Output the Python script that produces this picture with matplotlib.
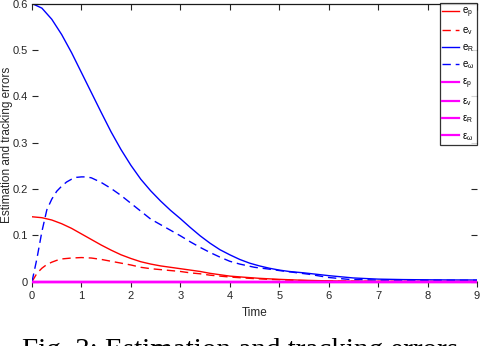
import numpy as np
import matplotlib
matplotlib.use('Agg')
import matplotlib.pyplot as plt

plt.rcParams['font.family'] = ['Liberation Sans', 'DejaVu Sans']
plt.rcParams['mathtext.fontset'] = 'dejavusans'

# values
t_eR = [0.0, 0.2, 0.4, 0.6, 0.8, 1.0, 1.2, 1.4, 1.6, 1.8, 2.0, 2.2, 2.4, 2.6, 2.8, 3.0,
        3.2, 3.4, 3.6, 3.8, 4.0, 4.2, 4.4, 4.6, 4.8, 5.0, 5.2, 5.5, 6.0, 6.5, 7.0,
        7.5, 8.0, 8.5, 9.0]
eR = [0.600, 0.590, 0.566, 0.533, 0.494, 0.451, 0.408, 0.365, 0.323, 0.285, 0.251, 0.221,
      0.196, 0.174, 0.154, 0.136, 0.117, 0.099, 0.083, 0.069, 0.058, 0.048, 0.040, 0.034,
      0.029, 0.025, 0.022, 0.019, 0.013, 0.008, 0.0055, 0.0045, 0.004, 0.0037, 0.0036]

t_ew = [0.0, 0.1, 0.2, 0.3, 0.4, 0.5, 0.6, 0.7, 0.8, 0.9, 1.0, 1.1, 1.2, 1.4, 1.6, 1.8,
        2.0, 2.2, 2.4, 2.6, 2.8, 3.0, 3.2, 3.4, 3.6, 3.8, 4.0, 4.2, 4.5, 4.8, 5.0, 5.3,
        5.6, 6.0, 6.4, 7.0, 8.0, 9.0]
ew = [0.0, 0.050, 0.108, 0.155, 0.178, 0.195, 0.206, 0.215, 0.221, 0.225, 0.226, 0.226,
      0.224, 0.214, 0.201, 0.186, 0.169, 0.152, 0.135, 0.123, 0.111, 0.099, 0.086, 0.074,
      0.063, 0.053, 0.044, 0.038, 0.031, 0.027, 0.024, 0.020, 0.016, 0.009, 0.005, 0.0035,
      0.003, 0.003]

t_ep = [0.0, 0.2, 0.4, 0.6, 0.8, 1.0, 1.2, 1.4, 1.6, 1.8, 2.0, 2.2, 2.4, 2.6, 2.8, 3.0,
        3.2, 3.4, 3.6, 3.8, 4.0, 4.3, 4.6, 5.0, 5.4, 5.8, 6.3, 7.0, 8.0, 9.0]
ep = [0.140, 0.138, 0.133, 0.125, 0.115, 0.103, 0.091, 0.079, 0.068, 0.058, 0.050, 0.043,
      0.038, 0.034, 0.031, 0.028, 0.025, 0.022, 0.018, 0.015, 0.012, 0.0095, 0.0072, 0.005,
      0.0033, 0.0022, 0.0012, 0.0006, 0.0003, 0.0002]

t_ev = [0.0, 0.1, 0.2, 0.3, 0.4, 0.5, 0.6, 0.8, 1.0, 1.2, 1.4, 1.6, 1.8, 2.0, 2.2, 2.4,
        2.6, 2.8, 3.0, 3.2, 3.4, 3.6, 3.8, 4.0, 4.4, 4.8, 5.2, 5.6, 6.0, 7.0, 9.0]
ev = [0.0, 0.018, 0.029, 0.037, 0.042, 0.046, 0.049, 0.051, 0.052, 0.051, 0.048, 0.044,
      0.040, 0.036, 0.031, 0.028, 0.026, 0.024, 0.022, 0.019, 0.017, 0.014, 0.012, 0.010,
      0.0072, 0.005, 0.0033, 0.002, 0.0012, 0.0006, 0.0003]

t_eps = [0, 9]
eps_p = [0, 0]
eps_v = [0, 0]
eps_R = [0, 0]
eps_w = [0, 0]

labels = [r'$\mathregular{e_p}$', r'$\mathregular{e_v}$', r'$\mathregular{e_R}$', r'$\mathregular{e_\omega}$',
          r'$\mathregular{\epsilon_p}$', r'$\mathregular{\epsilon_v}$', r'$\mathregular{\epsilon_R}$',
          r'$\mathregular{\epsilon_\omega}$']

fig = plt.figure(figsize=(4.8, 3.46), dpi=100)
ax = fig.add_axes([32/480, 1-287/346, (477-32)/480, (287-3.5)/346])

lw = 1.0
dash = (6, 3.5)
h = []
h += ax.plot(t_ep, ep, color='red', lw=lw)
h += ax.plot(t_ev, ev, color='red', lw=lw, dashes=dash)
h += ax.plot(t_eR, eR, color='blue', lw=lw)
h += ax.plot(t_ew, ew, color='blue', lw=lw, dashes=dash)
for e in [eps_p, eps_v, eps_R, eps_w]:
    h += ax.plot(t_eps, e, color='magenta', lw=1.6)

ax.set_xlim(0, 9)
ax.set_ylim(-0.0115, 0.6)
ax.set_xticks(np.arange(0, 10, 1))
ax.set_yticks([0, 0.1, 0.2, 0.3, 0.4, 0.5, 0.6])
ax.set_yticklabels(['0', '0.1', '0.2', '0.3', '0.4', '0.5', '0.6'])
ax.tick_params(direction='in', length=4, width=0.8, labelsize=8, colors='0.15',
               top=True, right=True, pad=3)
for s in ['left', 'right', 'bottom']:
    ax.spines[s].set_visible(False)
ax.spines['top'].set_linewidth(0.9)
ax.spines['top'].set_color('0.1')

ax.set_xlabel('Time', fontsize=8.5, color='0.15', labelpad=4)
ax.set_ylabel('Estimation and tracking errors', fontsize=8.5, color='0.15', va='center')
ax.yaxis.set_label_coords((7 - 32) / 445, 0.5)

leg = fig.legend(h, labels, loc='lower left', bbox_to_anchor=(440/480, 1-145/346),
                 fontsize=7, frameon=True, fancybox=False, borderaxespad=0,
                 labelspacing=0.55, handlelength=1.7, handletextpad=0.3, borderpad=0.25)
leg.get_frame().set_edgecolor('black')
leg.get_frame().set_linewidth(0.9)

fig.text(22/480, 1-338/346, 'Fig. 3: Estimation and tracking errors', family='Liberation Serif',
         fontsize=21, va='top', ha='left')

fig.savefig('out.png', dpi=100)
